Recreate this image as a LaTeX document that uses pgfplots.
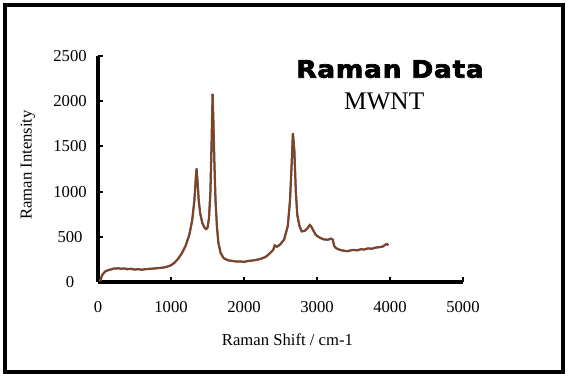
\documentclass[border=0pt]{standalone}
\usepackage{fontspec}
\setmainfont{Liberation Serif}
\newfontfamily\titlefont[FakeStretch=1.1,LetterSpace=3,FakeBold=3]{DejaVu Sans}
\usepackage{pgfplots}
\pgfplotsset{compat=1.18}
\definecolor{specbrown}{RGB}{128,68,22}
\definecolor{specpurple}{RGB}{110,90,150}
\begin{document}
\begin{tikzpicture}
\useasboundingbox (0,0) rectangle (427.5pt,284.25pt);
\draw[line width=3pt] (3.75pt,5.25pt) rectangle (422.25pt,280.5pt);
\begin{axis}[
  at={(73.5pt,72.75pt)}, anchor=south west,
  scale only axis, width=273.75pt, height=169.5pt,
  xmin=0, xmax=5000, ymin=0, ymax=2500,
  axis lines=left, axis line style={line width=2.4pt, -},
  xtick={0,1000,2000,3000,4000,5000},
  ytick={0,500,1000,1500,2000,2500},
  tick align=inside, major tick length=4pt,
  tick style={line width=1.6pt, black},
  /pgf/number format/assume math mode=true,
  scaled ticks=false,
  xticklabel style={anchor=center, yshift=-18.75pt, font=\fontsize{12.5}{14}\selectfont},
  yticklabel style={anchor=center, xshift=-21pt, font=\fontsize{12.5}{14}\selectfont},
  x tick label style={/pgf/number format/1000 sep={}},
  y tick label style={/pgf/number format/1000 sep={}},
  xlabel={Raman Shift / cm-1},
  ylabel={Raman Intensity},
  xlabel style={at={(axis description cs:0.519,-0.257)}, anchor=center, font=\fontsize{12.5}{15}\selectfont},
  ylabel style={at={(axis description cs:-0.192,0.518)}, anchor=center, rotate=0, font=\fontsize{12.5}{15}\selectfont},
  clip=false,
]
\pgfplotstableread{
x y
30 10
45 50
60 80
80 100
100 118
130 128
160 135
190 142
220 150
250 148
280 152
320 146
360 150
400 142
450 146
500 138
550 142
600 136
650 142
700 145
750 148
800 152
850 156
900 160
950 170
1000 185
1050 215
1100 260
1150 320
1200 400
1250 520
1290 680
1320 900
1340 1150
1350 1255
1360 1150
1380 900
1400 760
1430 650
1460 600
1480 585
1500 600
1520 700
1540 1000
1555 1500
1570 2080
1580 1800
1595 1300
1610 900
1630 600
1650 430
1680 320
1720 265
1780 240
1850 232
1900 226
1950 228
2000 222
2050 232
2100 236
2150 242
2200 250
2250 262
2300 280
2330 300
2370 330
2400 355
2420 405
2450 390
2480 405
2500 420
2550 470
2600 620
2630 900
2650 1250
2670 1645
2690 1450
2710 1000
2730 740
2760 620
2790 560
2830 565
2870 595
2900 630
2920 615
2950 570
2980 525
3010 505
3050 485
3100 470
3150 468
3190 480
3215 470
3235 400
3260 375
3300 360
3340 350
3380 345
3420 340
3460 350
3500 355
3550 350
3600 362
3650 360
3700 372
3750 368
3800 380
3850 385
3900 392
3940 415
3960 420
3975 405
}\spectrum
\addplot[specpurple, line width=1.7pt, no marks] table[x=x,y=y] {\spectrum};
\addplot[specbrown, line width=1.3pt, no marks] table[x=x,y=y] {\spectrum};
\node[font=\titlefont\bfseries\fontsize{18}{21}\selectfont] at (axis description cs:0.8,0.942) {Raman Data};
\node[font=\fontsize{19}{22}\selectfont] at (axis description cs:0.784,0.801) {MWNT};
\end{axis}
\end{tikzpicture}
\end{document}
